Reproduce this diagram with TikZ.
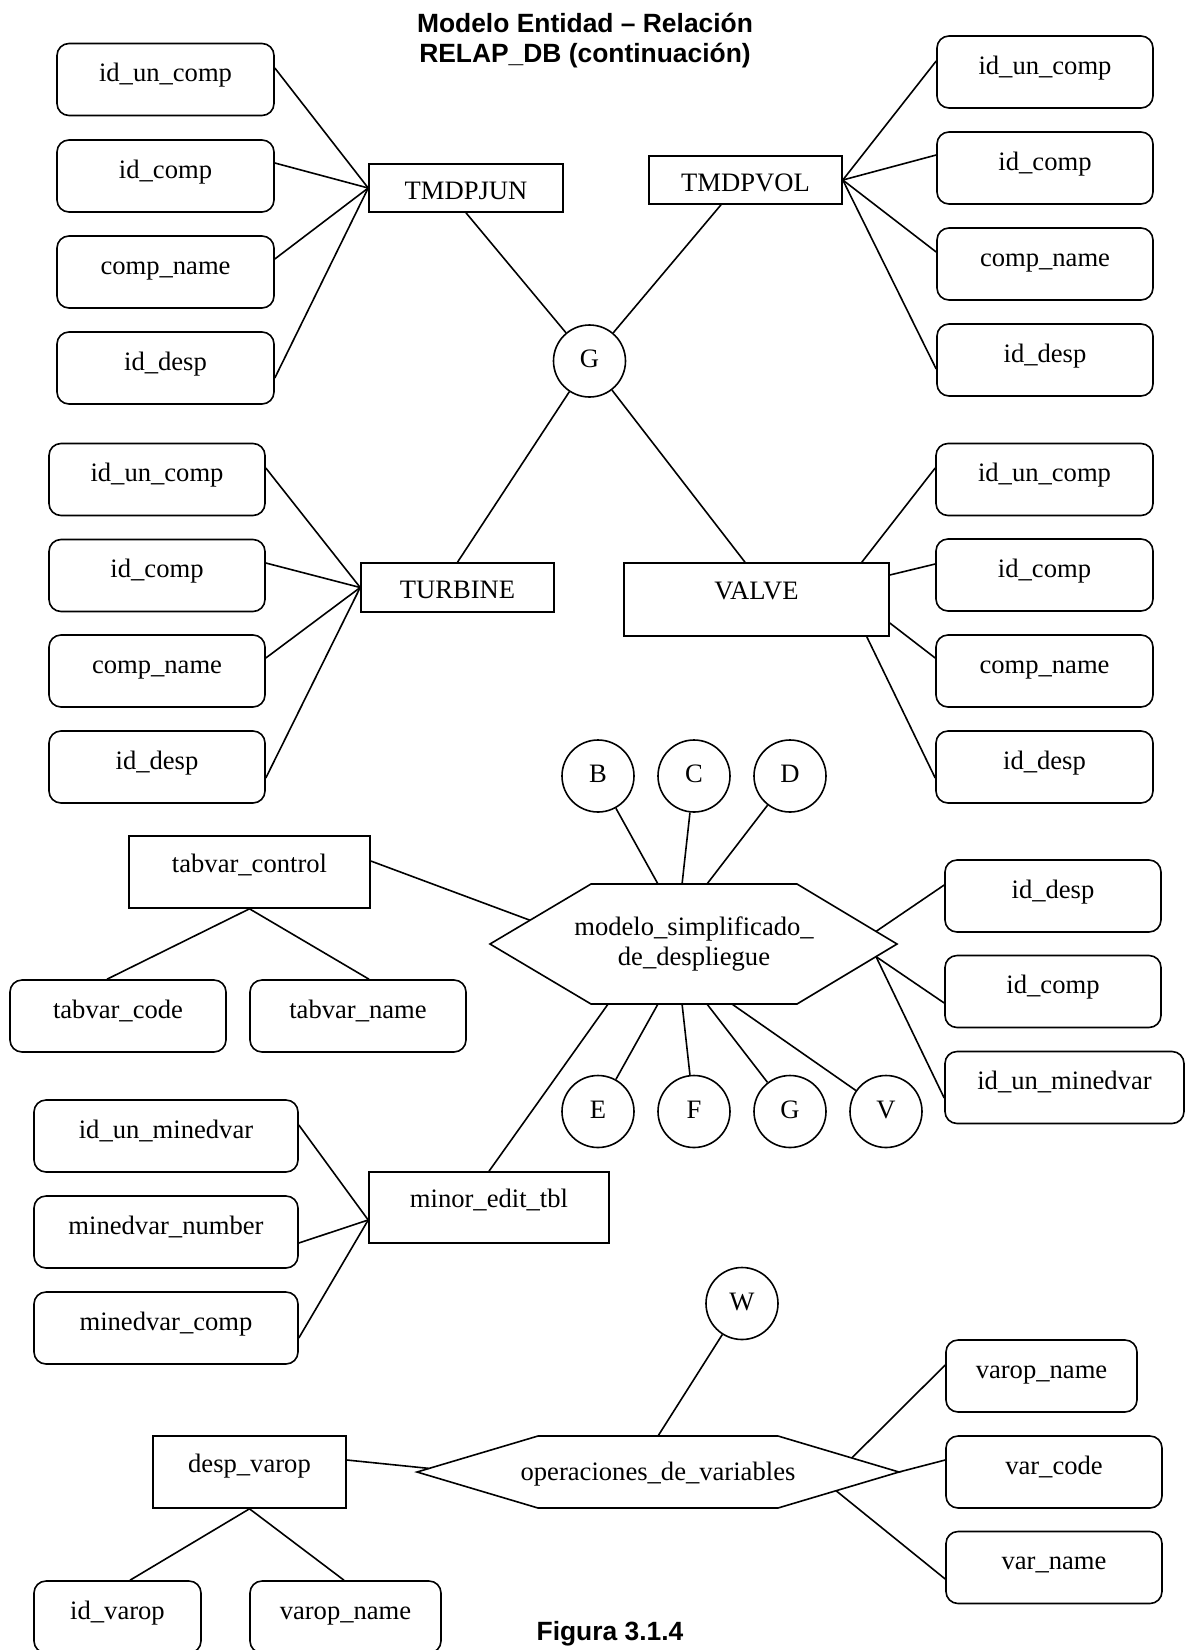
\documentclass[tikz,border=0pt]{standalone}
\usepackage{fontspec}
\setmainfont{Liberation Serif}
\newfontfamily\headfont{Liberation Sans}
\usetikzlibrary{calc}

\tikzset{
  conn/.style={line width=1.6pt},
  attr/.style={draw, line width=1.6pt, rounded corners=12pt, inner sep=0pt,
    minimum height=72pt, text height=16pt, text depth=12pt},
  ent/.style={draw, line width=1.6pt, inner sep=0pt,
    text height=12pt, text depth=12pt},
  entsmall/.style={draw, line width=1.6pt, inner sep=0pt, minimum height=48pt,
    text height=22pt, text depth=0pt},
  ref/.style={draw, circle, line width=1.6pt, inner sep=0pt, minimum size=72pt,
    text height=13pt, text depth=0pt},
  headtext/.style={font=\headfont\bfseries\fontsize{26.4pt}{30pt}\selectfont, inner sep=0pt, anchor=base},
}

\begin{document}
\begin{tikzpicture}[x=1pt, y=-1pt, font=\fontsize{26.6pt}{30pt}\selectfont]
\path[use as bounding box, fill=white] (0,0) rectangle (1185,1650);

% heading
\node[headtext] (t1) at (585,32) {Modelo Entidad – Relación};
\node[headtext] (t2) at (585,62) {RELAP\_DB (continuación)};

% ---- TMDPJUN ----
\node[entsmall, minimum width=194pt] (tj) at (466,188) {TMDPJUN};
\node[attr, minimum width=217pt] (a1) at (165.5,79.5) {id\_un\_comp};
\node[attr, minimum width=217pt] (a2) at (165.5,176) {id\_comp};
\node[attr, minimum width=217pt] (a3) at (165.5,272) {comp\_name};
\node[attr, minimum width=217pt] (a4) at (165.5,368) {id\_desp};

% ---- TMDPVOL ----
\node[entsmall, minimum width=193pt] (tv) at (745.5,180) {TMDPVOL};
\node[attr, minimum width=216pt] (b1) at (1045,72) {id\_un\_comp};
\node[attr, minimum width=216pt] (b2) at (1045,168) {id\_comp};
\node[attr, minimum width=216pt] (b3) at (1045,264) {comp\_name};
\node[attr, minimum width=216pt] (b4) at (1045,360) {id\_desp};

% ---- central relationship ----
\node[ref] (gtop) at (589.5,361) {G};

% ---- TURBINE ----
\node[entsmall, minimum width=193pt, minimum height=49pt] (tu) at (457.5,587.5) {TURBINE};
\node[attr, minimum width=216pt] (c1) at (157,479.5) {id\_un\_comp};
\node[attr, minimum width=216pt] (c2) at (157,575.5) {id\_comp};
\node[attr, minimum width=216pt] (c3) at (157,671) {comp\_name};
\node[attr, minimum width=216pt] (c4) at (157,767) {id\_desp};

% ---- VALVE ----
\node[ent, minimum width=265pt, minimum height=73pt] (va) at (756.5,599.5) {VALVE};
\node[attr, minimum width=217pt] (d1) at (1044.5,479.5) {id\_un\_comp};
\node[attr, minimum width=217pt] (d2) at (1044.5,575) {id\_comp};
\node[attr, minimum width=217pt] (d3) at (1044.5,671) {comp\_name};
\node[attr, minimum width=217pt] (d4) at (1044.5,767) {id\_desp};

% attribute links
\draw[conn] (tj.west) -- ([yshift=11.5pt]a1.east);
\draw[conn] (tj.west) -- ([yshift=13pt]a2.east);
\draw[conn] (tj.west) -- ([yshift=13pt]a3.east);
\draw[conn] (tj.west) -- ([yshift=-10pt]a4.east);

\draw[conn] (tv.east) -- ([yshift=11pt]b1.west);
\draw[conn] (tv.east) -- ([yshift=13pt]b2.west);
\draw[conn] (tv.east) -- ([yshift=12pt]b3.west);
\draw[conn] (tv.east) -- ([yshift=-9pt]b4.west);

\draw[conn] (tu.west) -- ([yshift=11.5pt]c1.east);
\draw[conn] (tu.west) -- ([yshift=12.5pt]c2.east);
\draw[conn] (tu.west) -- ([yshift=13pt]c3.east);
\draw[conn] (tu.west) -- ([yshift=-11pt]c4.east);

\draw[conn] ([xshift=-28pt]va.north east) -- ([yshift=11.5pt]d1.west);
\draw[conn] ([yshift=24.5pt]va.east) -- ([yshift=11pt]d2.west);
\draw[conn] ([yshift=-23.5pt]va.east) -- ([yshift=13pt]d3.west);
\draw[conn] ([xshift=-23pt]va.south east) -- ([yshift=-11pt]d4.west);

% entities to G
\draw[conn] (tj.south) -- (gtop);
\draw[conn] ([xshift=-24.5pt]tv.south) -- (gtop);
\draw[conn] (tu.north) -- (gtop);
\draw[conn] ([xshift=-11.5pt]va.north) -- (gtop);

% ---- modelo_simplificado_de_despliegue ----
\node[inner sep=0pt, align=center] (ms) at (694,944) {modelo\_simplificado\_\\de\_despliegue};
\draw[conn] (ms.center) ++(-204,0) coordinate (msW) -- ++(101,-60) coordinate (msNW)
  -- ++(206,0) coordinate (msNE) -- ++(100,60) coordinate (msE)
  -- ++(-100,60) coordinate (msSE) -- ++(-206,0) coordinate (msSW) -- cycle;

\node[ref] (cb) at (598,776) {B};
\node[ref] (cc) at (694,776) {C};
\node[ref] (cd) at (790,776) {D};
\node[ref] (ce) at (598,1111.5) {E};
\node[ref] (cf) at (694,1111.5) {F};
\node[ref] (cg) at (790,1111.5) {G};
\node[ref] (cv) at (886,1111.5) {V};

\draw[conn] ($(msNW)!0.325!(msNE)$) -- (cb);
\draw[conn] ($(msNW)!0.442!(msNE)$) -- (cc);
\draw[conn] ($(msNW)!0.563!(msNE)$) -- (cd);
\draw[conn] ($(msSW)!0.325!(msSE)$) -- (ce);
\draw[conn] ($(msSW)!0.442!(msSE)$) -- (cf);
\draw[conn] ($(msSW)!0.563!(msSE)$) -- (cg);
\draw[conn] ($(msSW)!0.684!(msSE)$) -- (cv);

\node[attr, minimum width=216pt] (e1) at (1053,896) {id\_desp};
\node[attr, minimum width=216pt] (e2) at (1053,991.5) {id\_comp};
\node[attr, minimum width=239pt] (e3) at (1064.5,1087.5) {id\_un\_minedvar};
\draw[conn] ($(msNE)!0.79!(msE)$) -- ([yshift=11pt]e1.west);
\draw[conn] ($(msE)!0.21!(msSE)$) -- ([yshift=-11.5pt]e2.west);
\draw[conn] ($(msE)!0.21!(msSE)$) -- ([yshift=-10.5pt]e3.west);

% ---- tabvar_control ----
\node[ent, minimum width=241pt, minimum height=72pt] (tc) at (249.5,872) {tabvar\_control};
\node[attr, minimum width=216pt] (f1) at (118,1016) {tabvar\_code};
\node[attr, minimum width=216pt] (f2) at (358,1016) {tabvar\_name};
\draw[conn] ([yshift=11pt]tc.east) -- ($(msW)!0.396!(msNW)$);
\draw[conn] (tc.south) -- ([xshift=-11pt]f1.north);
\draw[conn] (tc.south) -- ([xshift=11pt]f2.north);

% ---- minor_edit_tbl ----
\node[ent, minimum width=240pt, minimum height=71pt] (mt) at (489,1207.5) {minor\_edit\_tbl};
\node[attr, minimum width=264pt] (m1) at (166,1136) {id\_un\_minedvar};
\node[attr, minimum width=264pt] (m2) at (166,1232) {minedvar\_number};
\node[attr, minimum width=264pt] (m3) at (166,1328) {minedvar\_comp};
\draw[conn] ($(msSW)!0.083!(msSE)$) -- (mt.north);
\draw[conn] ([yshift=-12.5pt]mt.west) -- ([yshift=11pt]m1.east);
\draw[conn] ([yshift=-12.5pt]mt.west) -- ([yshift=-11pt]m2.east);
\draw[conn] ([yshift=-12.5pt]mt.west) -- ([yshift=-10pt]m3.east);

% ---- operaciones_de_variables ----
\node[inner sep=0pt, text height=16pt, text depth=0pt] (op) at (658,1472) {operaciones\_de\_variables};
\draw[conn] (op.center) ++(-241,0) coordinate (opW) -- ++(121,-36) coordinate (opNW)
  -- ++(240,0) coordinate (opNE) -- ++(121,36) coordinate (opE)
  -- ++(-121,36) coordinate (opSE) -- ++(-240,0) coordinate (opSW) -- cycle;

\node[ref] (cw) at (742,1303.5) {W};
\draw[conn] ($(opNW)!0.5!(opNE)$) -- (cw);

\node[ent, minimum width=193pt, minimum height=72pt] (dv) at (249.5,1472) {desp\_varop};
\node[attr, minimum width=167pt] (h1) at (117.5,1617) {id\_varop};
\node[attr, minimum width=191pt] (h2) at (345.5,1617) {varop\_name};
\draw[conn] ([yshift=12pt]dv.east) -- ($(opW)!0.1!(opNW)$);
\draw[conn] (dv.south) -- ([xshift=12.5pt]h1.north);
\draw[conn] (dv.south) -- ([xshift=-1.5pt]h2.north);

\node[attr, minimum width=191pt] (i1) at (1041.5,1376) {varop\_name};
\node[attr, minimum width=216pt] (i2) at (1054,1472) {var\_code};
\node[attr, minimum width=216pt] (i3) at (1054,1567.5) {var\_name};
\draw[conn] ([yshift=11pt]i1.west) -- ($(opNE)!0.61!(opE)$);
\draw[conn] ([yshift=12pt]i2.west) -- (opE);
\draw[conn] ([yshift=-11.5pt]i3.west) -- ($(opE)!0.52!(opSE)$);

% caption
\node[headtext] (cap) at (610,1640) {Figura 3.1.4};
\end{tikzpicture}
\end{document}
